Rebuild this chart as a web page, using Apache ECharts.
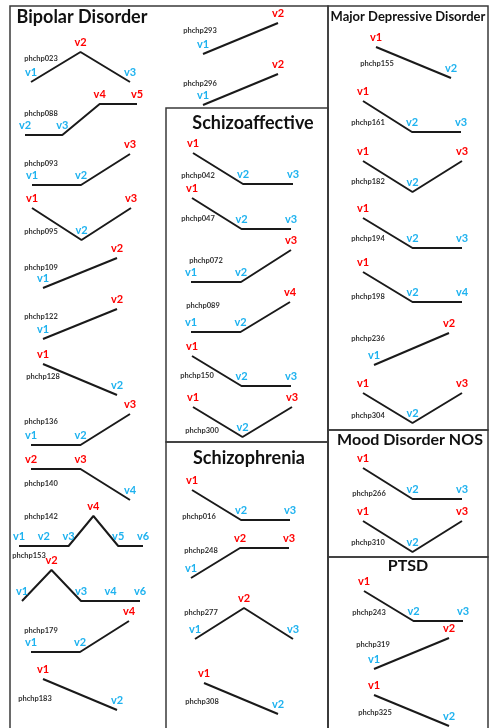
<!DOCTYPE html>
<html><head><meta charset="utf-8">
<script src="https://cdn.jsdelivr.net/npm/echarts@6/dist/echarts.min.js"></script>
<style>html,body{margin:0;padding:0;background:#fff}#c{width:490px;height:728px}</style>
</head><body><div id="c"></div>
<script>
// ---------- DATA ----------
const groupNames = ['Bipolar Disorder','Schizoaffective','Schizophrenia','Major Depressive Disorder','Mood Disorder NOS','PTSD'];
const patientIds = ['phchp023','phchp088','phchp093','phchp095','phchp109','phchp122','phchp128','phchp136','phchp140','phchp142','phchp153','phchp179','phchp183','phchp293','phchp296',
  'phchp042','phchp047','phchp072','phchp089','phchp150','phchp300',
  'phchp016','phchp248','phchp277','phchp308',
  'phchp155','phchp161','phchp182','phchp194','phchp198','phchp236','phchp304',
  'phchp266','phchp310',
  'phchp243','phchp319','phchp325'];
const patientGroup = [0,0,0,0,0,0,0,0,0,0,0,0,0,0,0, 1,1,1,1,1,1, 2,2,2,2, 3,3,3,3,3,3,3, 4,4, 5,5,5];
const visitLabels = [
  ['v1','v2','v3'],['v2','v3','v4','v5'],['v1','v2','v3'],['v1','v2','v3'],['v1','v2'],['v1','v2'],['v1','v2'],['v1','v2','v3'],['v2','v3','v4'],['v1','v2','v3','v4','v5','v6'],['v1','v2','v3','v4','v6'],['v1','v2','v4'],['v1','v2'],['v1','v2'],['v1','v2'],
  ['v1','v2','v3'],['v1','v2','v3'],['v1','v2','v3'],['v1','v2','v4'],['v1','v2','v3'],['v1','v2','v3'],
  ['v1','v2','v3'],['v1','v2','v3'],['v1','v2','v3'],['v1','v2'],
  ['v1','v2'],['v1','v2','v3'],['v1','v2','v3'],['v1','v2','v3'],['v1','v2','v4'],['v1','v2'],['v1','v2','v3'],
  ['v1','v2','v3'],['v1','v2','v3'],
  ['v1','v2','v3'],['v1','v2'],['v1','v2']
];
// 1 = high (red), 0 = low (blue)
const visitLevels = [
  [0,1,0],[0,0,1,1],[0,0,1],[1,0,1],[0,1],[0,1],[1,0],[0,0,1],[1,1,0],[0,0,0,1,0,0],[0,1,0,0,0],[0,0,1],[1,0],[0,1],[0,1],
  [1,0,0],[1,0,0],[0,0,1],[0,0,1],[1,0,0],[1,0,1],
  [1,0,0],[0,1,1],[0,1,0],[1,0],
  [1,0],[1,0,0],[1,0,1],[1,0,0],[1,0,0],[0,1],[1,0,1],
  [1,0,0],[1,0,1],
  [1,0,0],[0,1],[1,0]
];

// ---------- LAYOUT (positions only) ----------
// [left, right, top, bottom, idX, idY]
const panelLayout = [
  [31,130,52,82,41,59],[25,137,104,135,41,114],[32,130,154,185,41,164],[32,131,208,240,41,232],[43,117,258,288,41,268],[43,117,309,339,41,317],[43,117,364,395,43,377],[31,130,414,445,41,422],[31,130,469,500,41,484],[19,143,516,546,41,517],[22,140,570,601,29,556],[31,129,621,652,41,631],[43,117,679,710,35,699],[203,278,23,54,200,31],[203,278,74,105,200,84],
  [193,293,153,184,198,176],[192,291,198,229,198,219],[191,291,250,282,206,261],[191,290,302,332,203,306],[192,291,356,386,197,376],[193,292,407,437,202,431],
  [192,290,490,520,199,517],[191,289,548,578,201,551],[195,293,608,639,201,613],[204,278,683,714,202,702],
  [376,451,47,78,377,64],[363,461,101,132,368,123],[363,462,161,192,368,182],[363,462,218,248,368,239],[363,462,272,302,368,297],[374,449,333,365,368,339],[363,462,393,423,368,416],
  [363,462,468,499,369,494],[363,462,521,552,368,543],
  [364,463,591,621,369,613],[374,449,638,669,373,645],[374,449,695,726,375,713]
];
// group boxes [x, y, w, h] and title [cx, cy, fontSize]
const boxLayout = [[10,6,318,726],[166,108,162,334],[166,442,162,290],[328,6,160,424],[328,430,160,127],[328,557,160,175]];
const titleLayout = [[82,17,18],[253,123,18],[249,458,18],[408,17,13],[410,440,16],[408,566,16]];

const RED = '#ff0000', BLUE = '#1eb2ef';
const FONT = 'Lato, "Open Sans", sans-serif';

const grid = [], xAxis = [], yAxis = [], series = [], graphic = [];
boxLayout.forEach(b => graphic.push({type:'rect', shape:{x:b[0], y:b[1], width:b[2], height:b[3]}, style:{fill:null, stroke:'#3a3a3a', lineWidth:1.5}, silent:true}));
groupNames.forEach((g,i) => {
  const t = titleLayout[i];
  graphic.push({type:'text', x:t[0], y:t[1], style:{text:g, font:'bold '+t[2]+'px '+FONT, fill:'#111', align:'center', verticalAlign:'middle'}});
});
patientIds.forEach((pid, i) => {
  const L = panelLayout[i];
  const n = visitLevels[i].length;
  grid.push({left:L[0], top:L[2], width:L[1]-L[0], height:L[3]-L[2], containLabel:false});
  xAxis.push({type:'value', gridIndex:i, min:0, max:n-1, show:false});
  yAxis.push({type:'value', gridIndex:i, min:0, max:1, show:false});
  series.push({
    type:'line', xAxisIndex:i, yAxisIndex:i, clip:false, silent:true,
    symbol:'circle', symbolSize:0.01, lineStyle:{color:'#1a1a1a', width:2}, itemStyle:{color:'#1a1a1a'},
    data: visitLevels[i].map((v,j) => ({
      value:[j, v],
      label:{show:true, position:'top', distance:4, formatter:visitLabels[i][j], color: v ? RED : BLUE, fontWeight:'bold', fontSize:11, fontFamily:FONT}
    }))
  });
  graphic.push({type:'text', x:L[4], y:L[5], style:{text:pid, font:'bold 7.5px '+FONT, fill:'#333', align:'center', verticalAlign:'middle'}});
});

const chart = echarts.init(document.getElementById('c'), null, {renderer:'canvas'});
chart.setOption({animation:false, grid, xAxis, yAxis, series, graphic});
</script></body></html>
